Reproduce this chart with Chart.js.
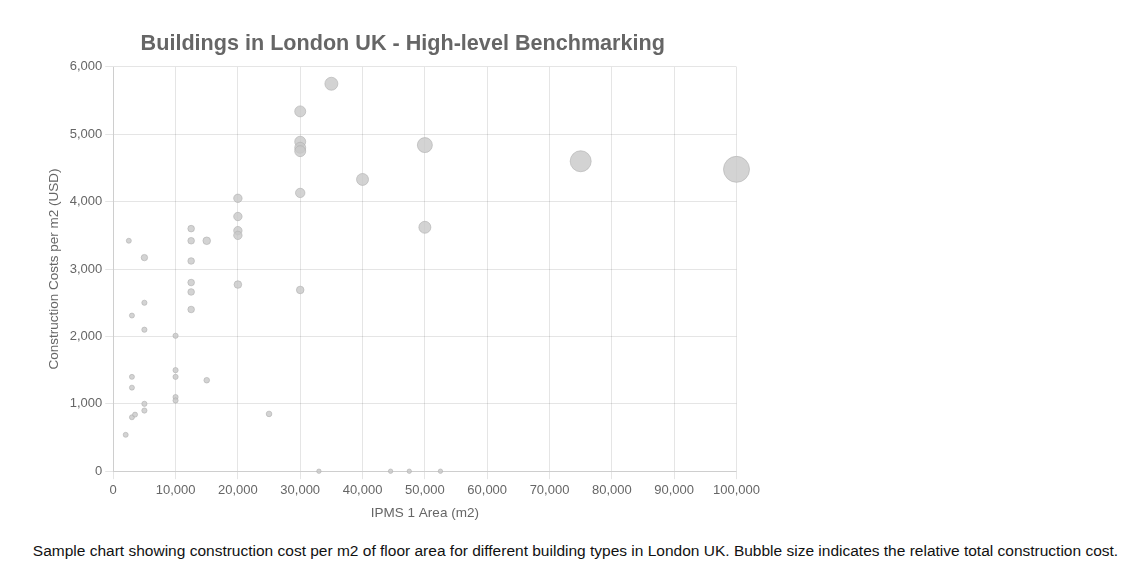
<!DOCTYPE html>
<html>
<head>
<meta charset="utf-8">
<script src="https://cdn.jsdelivr.net/npm/chart.js@4/dist/chart.umd.min.js"></script>
<style>
    body { margin: 0; background: #fff; }
    #wrap { position: absolute; left: 0; top: 0; width: 763px; height: 525px; }
    #caption {
        position: absolute; left: 5px; top: 541px; width: 1141px;
        text-align: center; font: 15.5px "Liberation Sans", Arial, sans-serif;
        line-height: 20px; color: #111;
    }
</style>
</head>
<body>
<div id="wrap"><canvas id="bubbleChart"></canvas></div>
<div id="caption">Sample chart showing construction cost per m2 of floor area for different building types in London UK. Bubble size indicates the relative total construction cost.</div>
<script>
// IPMS 1 area (m2), cost per m2 (USD), bubble radius (relative total cost)
const areas = [2000, 2500, 3000, 3000, 3000, 3000, 3500, 5000, 5000, 5000, 5000, 5000,
    10000, 10000, 10000, 10000, 10000, 12500, 12500, 12500, 12500, 12500, 12500,
    15000, 15000, 20000, 20000, 20000, 20000, 20000, 25000,
    30000, 30000, 30000, 30000, 30000, 30000, 35000, 40000, 50000, 50000, 75000, 100000,
    33000, 44500, 47500, 52500];
const costs = [540, 3420, 2310, 1400, 1240, 800, 840, 3170, 2500, 2100, 1000, 900,
    2010, 1500, 1400, 1100, 1050, 3600, 3420, 3120, 2800, 2660, 2400,
    3420, 1350, 4050, 3780, 3570, 3500, 2770, 850,
    5340, 4890, 4800, 4750, 4130, 2690, 5750, 4330, 4840, 3620, 4600, 4480,
    0, 0, 0, 0];
const radii = [2.5, 2.5, 2.5, 2.5, 2.5, 2.5, 2.5, 3.2, 2.6, 2.6, 2.6, 2.6,
    2.6, 2.6, 2.6, 2.6, 2.6, 3.3, 3.3, 3.3, 3.3, 3.3, 3.3,
    3.8, 2.8, 4.2, 4.2, 4.2, 4.2, 3.8, 2.8,
    5.5, 5.5, 5.5, 5.5, 4.7, 3.8, 6.5, 6, 7.5, 6, 10.5, 13,
    2.2, 2.2, 2.2, 2.2];

const xTicks = { min: 0, max: 100000, step: 10000 };
const yTicks = { min: 0, max: 6000, step: 1000 };

const points = areas.map((a, i) => ({ x: a, y: costs[i], r: radii[i] }));

Chart.defaults.font.family = "'Liberation Sans', Arial, sans-serif";
Chart.defaults.font.size = 13;
Chart.defaults.color = "#666";

new Chart(document.getElementById("bubbleChart"), {
    type: "bubble",
    data: {
        datasets: [
            {
                label: "Buildings",
                data: points,
                backgroundColor: "rgba(200, 200, 200, 0.8)",
                borderColor: "rgba(175, 175, 175, 0.6)",
                borderWidth: 1,
                clip: false,
            },
        ],
    },
    options: {
        responsive: true,
        maintainAspectRatio: false,
        animation: false,
        layout: { padding: { top: 21, right: 0, left: 42.5, bottom: 0 } },
        plugins: {
            legend: { display: false },
            tooltip: { enabled: false },
            title: {
                display: true,
                text: "Buildings in London UK - High-level Benchmarking",
                color: "#666",
                font: { size: 21.6, weight: "bold" },
                padding: { top: 10, bottom: 10 },
            },
        },
        scales: {
            x: {
                type: "linear",
                min: xTicks.min,
                max: xTicks.max,
                ticks: { stepSize: xTicks.step, color: "#666" },
                grid: { color: "rgba(0,0,0,0.1)" },
                title: {
                    display: true,
                    text: "IPMS 1 Area (m2)",
                    color: "#666",
                    font: { size: 13.5 },
                    padding: { top: 4, bottom: 4 },
                },
            },
            y: {
                type: "linear",
                min: yTicks.min,
                max: yTicks.max,
                ticks: { stepSize: yTicks.step, color: "#666" },
                grid: { color: "rgba(0,0,0,0.1)" },
                title: {
                    display: true,
                    text: "Construction Costs per m2 (USD)",
                    color: "#666",
                    font: { size: 13.5 },
                },
            },
        },
    },
});
</script>
</body>
</html>
